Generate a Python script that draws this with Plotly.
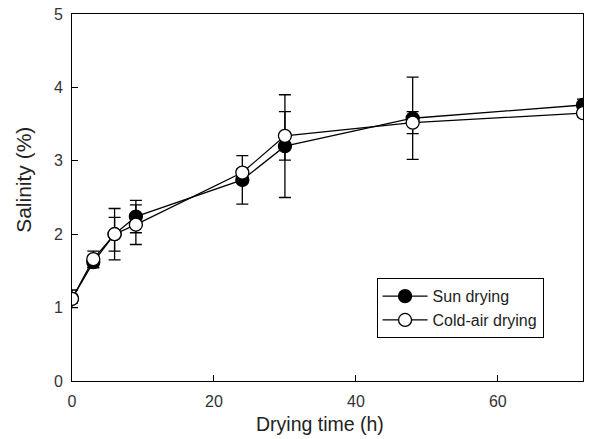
import plotly.graph_objects as go

time_h = [0, 3, 6, 9, 24, 30, 48, 72]
sun = [1.12, 1.62, 2.00, 2.24, 2.74, 3.20, 3.58, 3.76]
sun_err = [0.12, 0.08, 0.35, 0.22, 0.33, 0.70, 0.56, 0.08]
cold = [1.12, 1.66, 2.00, 2.13, 2.84, 3.34, 3.52, 3.65]
cold_err = [0.06, 0.11, 0.23, 0.27, 0.05, 0.33, 0.15, 0.05]
x_ticks = [0, 20, 40, 60]
y_ticks = [0, 1, 2, 3, 4, 5]

font_family = "Liberation Sans, Arial, sans-serif"

fig = go.Figure()
fig.add_trace(go.Scatter(
    x=time_h, y=sun, name="Sun drying", mode="lines+markers",
    line=dict(color="black", width=1.3),
    marker=dict(symbol="circle", size=13, color="black", line=dict(color="black", width=1.3)),
    error_y=dict(type="data", array=sun_err, visible=True, color="black", thickness=1.3, width=6),
))
fig.add_trace(go.Scatter(
    x=time_h, y=cold, name="Cold-air drying", mode="lines+markers",
    line=dict(color="black", width=1.3),
    marker=dict(symbol="circle", size=13, color="white", line=dict(color="black", width=1.3)),
    error_y=dict(type="data", array=cold_err, visible=True, color="black", thickness=1.3, width=6),
))

fig.update_layout(
    width=589, height=439,
    margin=dict(l=72, r=6, t=14, b=58),
    paper_bgcolor="white", plot_bgcolor="white",
    font=dict(family=font_family, size=16, color="#333333"),
    showlegend=True,
    legend=dict(
        x=0.596, y=0.280, xanchor="left", yanchor="top",
        bordercolor="black", borderwidth=1, bgcolor="white",
        font=dict(size=16, color="#222222"),
        itemwidth=45, tracegroupgap=0,
    ),
    annotations=[
        dict(
            text="Salinity (%)", textangle=-90, xref="paper", yref="paper",
            x=-0.094, y=0.548, xanchor="center", yanchor="middle", showarrow=False,
            font=dict(size=21, color="#222222"),
        ),
        dict(
            text="Drying time (h)", xref="paper", yref="paper",
            x=0.485, y=-0.117, xanchor="center", yanchor="middle", showarrow=False,
            font=dict(size=19.5, color="#222222"),
        ),
    ],
)
fig.update_xaxes(
    range=[0, 72], tickvals=x_ticks, ticks="inside", ticklen=6, tickcolor="black",
    showline=True, linecolor="black", linewidth=1, mirror=True, showgrid=False, zeroline=False,
    tickfont=dict(size=16), ticklabelstandoff=6,
)
fig.update_yaxes(
    range=[0, 5], tickvals=y_ticks, ticks="inside", ticklen=6, tickcolor="black",
    showline=True, linecolor="black", linewidth=1, mirror=True, showgrid=False, zeroline=False,
    tickfont=dict(size=16), ticklabelstandoff=5,
)

fig.write_html("out.html")
